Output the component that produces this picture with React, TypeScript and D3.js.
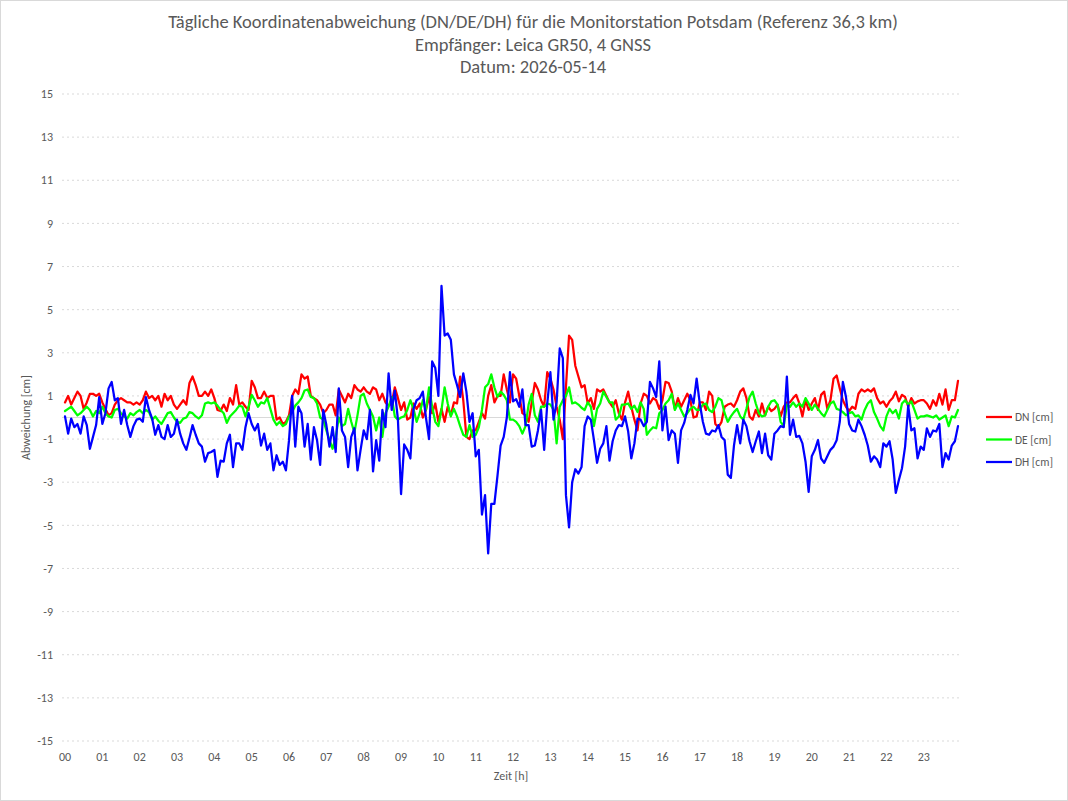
import React from 'react';
import * as d3 from 'd3';

// 5-minute samples, one row per hour (00..23)
const dn = [
  0.7, 1.0, 0.6, 0.9, 1.2, 1.0, 0.4, 0.7, 1.1, 1.1, 1.0, 1.1,
  0.7, 0.4, 0.1, 0.2, 0.6, 0.8, 0.9, 0.8, 0.7, 0.7, 0.6, 0.7,
  0.6, 0.8, 1.2, 0.9, 1.0, 0.8, 1.0, 0.5, 1.1, 0.8, 1.0, 0.6,
  0.4, 0.6, 0.8, 0.6, 1.6, 1.9, 1.5, 1.0, 1.0, 1.2, 1.0, 1.3,
  0.9, 0.35, 0.3, 0.6, 0.3, 0.9, 0.6, 1.5, 0.6, 0.7, 0.5, 0.35,
  1.7, 1.4, 0.9, 0.9, 1.2, 0.9, 1.0, 1.0, -0.1, 0.0, -0.3, -0.2,
  0.1, 1.0, 1.3, 1.1, 2.0, 1.8, 1.9, 1.0, 0.9, 0.8, 0.6, 0.2,
  0.35, 0.6, 0.6, 0.1, 1.3, 1.0, 0.7, 1.1, 0.9, 1.5, 1.3, 1.2,
  1.4, 1.2, 1.1, 1.4, 1.3, 0.8, 1.1, 0.7, 0.55, 0.65, 1.4, 0.9,
  0.35, 0.7, -0.1, 0.0, 0.65, 0.4, 0.65, 0.0, 0.35, 0.95, 0.2, 0.65,
  -0.2, 0.4, -0.2, 0.5, 0.1, 0.7, 0.65, 1.9, 0.8, -0.9, -1.0, -0.6,
  -0.6, -0.2, 0.2, -0.05, 1.0, 1.5, 0.7, 1.0, 1.0, 2.0, 1.3, 0.7,
  2.0, 1.8, 1.0, 0.2, 0.1, -0.2, 0.7, 1.6, 1.3, 0.8, 0.5, 2.1,
  1.8, 1.3, 0.5, -0.1, -1.0, 1.4, 3.8, 3.6, 2.4, 1.9, 1.4, 1.5,
  0.65, 0.9, 0.4, 1.3, 1.2, 1.3, 1.0, 0.7, 0.5, 0.8, 0.2, -0.1,
  0.7, 1.2, 0.5, -0.1, -0.6, 0.65, 1.1, 1.0, 0.65, 0.9, 0.8, 0.4,
  0.8, 1.65, 1.6, 1.2, 0.4, 0.9, 0.5, 0.8, 1.1, 0.8, 0.0, 0.05,
  0.7, 0.7, 0.35, 1.2, 1.0, -0.3, -0.45, -0.2, 0.5, 0.6, 0.65, 0.5,
  0.8, 1.2, 1.35, 0.9, 0.05, -0.1, 0.35, 0.05, 0.65, 0.1, 0.5, 0.3,
  0.4, 0.6, 0.05, 0.5, 0.7, 0.7, 0.9, 1.05, 0.65, 0.05, 0.8, 0.35,
  0.65, 0.9, 0.35, 1.05, 1.2, 0.4, 0.8, 1.8, 1.95, 1.35, 0.8, 0.5,
  0.3, 0.5, 0.4, 1.1, 1.3, 1.2, 1.3, 1.2, 1.35, 0.9, 0.65, 0.75,
  0.5, 0.75, 0.9, 1.2, 0.75, 1.05, 0.95, 0.5, 0.9, 0.65, 0.75, 0.8,
  0.8, 0.65, 0.4, 0.8, 0.55, 1.1, 0.6, 1.3, 0.35, 0.8, 0.8, 1.7,
];

const de = [
  0.3, 0.4, 0.5, 0.3, 0.1, 0.2, 0.35, 0.5, 0.35, 0.05, 0.3, 0.2,
  0.5, 0.2, 0.05, 0.0, 0.35, 0.4, 0.2, 0.05, -0.05, 0.2, 0.1, 0.25,
  0.35, 0.2, 0.35, 0.25, -0.1, 0.05, -0.15, -0.3, -0.05, 0.2, 0.25, 0.0,
  -0.2, -0.25, -0.05, 0.0, 0.25, 0.2, 0.05, -0.05, 0.1, 0.65, 0.7, 0.65,
  0.7, 0.55, 0.35, 0.2, -0.25, 0.05, 0.2, 0.35, 0.55, 0.5, 0.05, 0.5,
  1.05, 0.8, 0.5, 0.7, 0.65, 0.9, 0.4, -0.1, -0.35, -0.2, -0.4, -0.3,
  0.05, 0.25, 0.55, 0.7, 0.9, 1.25, 1.3, 0.95, 0.9, 0.65, 0.0, -0.1,
  -0.6, -1.05, -1.45, -0.9, 0.0, -0.4, -0.3, 0.4, -0.2, -0.7, 0.1, 1.0,
  1.1, 0.65, 0.35, 0.05, -0.6, 0.0, -0.9, 0.2, 0.5, 0.95, 0.05, -0.1,
  0.0, 0.05, 0.35, 0.8, 0.4, -0.2, 0.2, 0.8, 0.35, 1.4, 0.5, -0.2,
  -0.4, 0.35, 1.4, 0.65, 0.05, 0.4, 0.05, -0.4, -0.8, -0.9, -0.35, -0.9,
  -0.8, -0.45, 0.35, 1.4, 1.55, 2.0, 1.4, 0.95, 1.2, 1.05, 0.8, -0.1,
  -0.1, -0.2, -0.4, -0.75, -0.4, 0.6, 1.1, 0.1, -0.2, 0.5, 0.5, 0.65,
  0.6, 0.35, -1.2, 0.5, 0.8, 1.0, 1.4, 0.65, 0.7, 0.6, 0.45, 0.35,
  0.7, 0.5, -0.4, 0.4, 0.65, 1.2, 0.95, 0.7, 0.7, -0.1, 0.05, 0.6,
  0.6, 0.65, 0.4, 0.55, 0.25, 0.7, 0.4, -0.8, -0.6, -0.45, -0.5, 0.2,
  0.35, 0.65, 0.8, 1.1, 0.35, 0.65, 0.35, 0.05, 0.2, 0.4, 0.5, 0.35,
  0.35, 0.6, 0.65, 0.35, 0.25, 0.5, 0.9, 0.8, 0.2, -0.2, 0.05, 0.25,
  0.4, 0.05, -0.1, 0.4, 0.95, 1.2, 0.65, 0.2, 0.05, 0.1, 0.5, 0.75,
  0.8, 0.6, -0.2, -0.4, 0.6, 0.5, 0.7, 0.5, 0.65, 0.5, 0.9, 0.65,
  0.35, 0.6, 0.4, 0.2, 0.05, 0.35, 0.65, 0.75, 0.4, 0.35, 0.25, 0.1,
  0.2, 0.25, 0.05, 0.1, -0.1, 0.35, 0.65, 0.8, 0.25, -0.05, -0.4, -0.6,
  0.05, 0.4, 0.2, 0.35, -0.05, 0.65, 0.8, 0.6, 0.75, 0.35, -0.05, 0.05,
  0.05, 0.1, 0.05, 0.0, 0.1, -0.1, 0.0, 0.1, -0.4, 0.05, 0.0, 0.35,
];

const dh = [
  0.05, -0.75, -0.05, -0.45, -0.3, -0.75, 0.05, -0.35, -1.45, -0.9, -0.35, 0.95,
  -0.3, 0.2, 1.35, 1.65, 0.8, 0.9, -0.3, 0.35, -0.35, -0.9, -0.4, -0.1,
  -0.05, -0.2, 0.95, 0.35, -0.05, -0.8, -0.35, -0.9, -1.0, -0.35, -0.9, -0.75,
  -0.1, -0.75, -1.2, -1.5, -0.95, -0.35, -0.8, -1.2, -1.35, -2.05, -1.65, -1.6,
  -1.5, -2.75, -2.0, -2.05, -1.2, -0.8, -2.3, -1.2, -1.2, -1.5, -0.45, 0.2,
  -0.3, -0.6, -0.3, -1.3, -0.75, -1.5, -1.2, -2.45, -1.75, -2.2, -2.05, -2.45,
  -1.05, 1.0, -1.35, 0.5, 0.2, -1.35, -0.3, -1.95, -0.45, -1.05, -2.2, 0.35,
  -0.35, -1.35, -0.45, -1.6, 1.35, -0.6, -0.9, -2.3, -0.9, -0.5, -2.45, -1.5,
  -0.6, -1.0, 0.35, -2.5, -1.05, -2.0, 0.35, -0.45, 2.05, 0.35, 1.25, -0.1,
  -3.55, -1.25, -1.5, -1.9, 0.4, 0.8, 0.9, 1.2, 0.0, -1.0, 2.6, 2.3,
  1.0, 6.1, 3.8, 3.9, 3.6, 2.0, 1.5, 0.95, 2.05, 1.2, -0.2, 0.2,
  -1.8, -1.5, -4.5, -3.6, -6.3, -4.0, -4.0, -2.7, -1.3, -0.9, 0.0, 2.1,
  0.75, 0.85, 0.5, 1.3, -0.35, -0.35, -1.35, -1.3, -0.6, 0.35, -1.5, 0.65,
  2.1, -0.1, 0.7, 3.2, 2.75, -3.6, -5.1, -3.0, -2.4, -2.6, -2.3, -0.4,
  0.05, -0.1, -1.05, -2.1, -1.45, -1.2, -0.4, -2.0, -1.1, -0.6, -0.35, -0.4,
  0.05, -0.65, -1.9, -1.2, -0.05, -0.1, -0.4, -0.2, 1.65, 1.35, 0.95, 2.6,
  -0.6, 0.5, -1.05, -0.6, -0.75, -2.1, -0.6, -0.25, 0.35, 1.05, 0.65, 1.8,
  0.65, -0.2, -0.75, -0.8, -0.6, -0.65, -0.35, -0.9, -1.05, -2.65, -2.8, -1.3,
  -0.35, -1.2, -0.1, -0.4, -1.1, -1.6, -1.1, -0.65, -1.65, -0.75, -1.75, -1.95,
  -0.75, -0.6, -0.4, -0.45, 1.9, -0.8, -0.1, -0.9, -0.85, -1.2, -2.05, -3.45,
  -1.8, -1.5, -1.05, -1.9, -2.1, -1.8, -1.5, -1.35, -1.05, -0.2, 1.65, 0.95,
  -0.3, -0.6, -0.65, -0.1, -0.4, -0.8, -1.3, -2.05, -1.8, -1.95, -2.3, -1.2,
  -1.35, -1.1, -1.95, -3.5, -2.9, -2.35, -1.35, 0.55, -0.6, -0.5, -1.9, -1.35,
  -1.5, -0.5, -0.9, -0.6, -0.65, -0.3, -2.3, -1.65, -1.95, -1.3, -1.1, -0.4,
];

const hourLabels = ['00', '01', '02', '03', '04', '05', '06', '07', '08', '09', '10', '11',
  '12', '13', '14', '15', '16', '17', '18', '19', '20', '21', '22', '23'];
const yTicks = [15, 13, 11, 9, 7, 5, 3, 1, -1, -3, -5, -7, -9, -11, -13, -15];
const seriesNames = ['DN [cm]', 'DE [cm]', 'DH [cm]'];
const seriesColors = ['#ff0000', '#00ff00', '#0000ff'];
const titleLines = [
  'Tägliche Koordinatenabweichung (DN/DE/DH) für die Monitorstation Potsdam (Referenz 36,3 km)',
  'Empfänger: Leica GR50, 4 GNSS',
  'Datum: 2026-05-14',
];

const STEP = 5; // minutes between samples
const W = 1068;
const H = 801;
const FONT = 'Carlito, Calibri, Lato, sans-serif';
const TEXT = '#595959';

export default function App() {
  const x = d3.scaleLinear().domain([0, (dn.length - 1) * STEP]).range([65, 958]);
  const y = d3.scaleLinear().domain([-15, 15]).range([741, 94]);

  const line = d3
    .line<number>()
    .x((_, i) => x(i * STEP))
    .y((d) => y(d));

  const series = [dn, de, dh];

  return (
    <svg width={W} height={H} style={{ position: 'absolute', left: 0, top: 0, background: '#fff' }} fontFamily={FONT}>
      <rect x={0.5} y={0.5} width={W - 1} height={H - 1} fill="#fff" stroke="#d9d9d9" />

      {titleLines.map((t, i) => (
        <text key={t} x={533} y={28 + i * 22.5} textAnchor="middle" fontSize={18.5} fill={TEXT}>
          {t}
        </text>
      ))}

      {/* gridlines */}
      {yTicks.map((v) => (
        <line key={v} x1={62} x2={960} y1={y(v)} y2={y(v)} stroke="#d9d9d9" strokeDasharray="2 3" />
      ))}
      <line x1={62} x2={960} y1={y(0)} y2={y(0)} stroke="#d9d9d9" />

      {yTicks.map((v) => (
        <text key={v} x={53} y={y(v)} dy="0.35em" textAnchor="end" fontSize={12} fill={TEXT}>
          {v}
        </text>
      ))}
      {hourLabels.map((h, i) => (
        <text key={h} x={x(i * 60)} y={761} textAnchor="middle" fontSize={12} fill={TEXT}>
          {h}
        </text>
      ))}

      <text transform={`translate(30,${y(0)}) rotate(-90)`} textAnchor="middle" fontSize={12} fill={TEXT}>
        Abweichung [cm]
      </text>
      <text x={511} y={780} textAnchor="middle" fontSize={12} fill={TEXT}>
        Zeit [h]
      </text>

      {series.map((s, i) => (
        <path
          key={seriesNames[i]}
          d={line(s) ?? ''}
          fill="none"
          stroke={seriesColors[i]}
          strokeWidth={2.25}
          strokeLinejoin="round"
          strokeLinecap="round"
        />
      ))}

      {seriesNames.map((n, i) => (
        <g key={n} transform={`translate(986,${417 + i * 22.5})`}>
          <line x1={0} x2={26} y1={0} y2={0} stroke={seriesColors[i]} strokeWidth={2.25} />
          <text x={29} y={0} dy="0.35em" fontSize={11.5} fill={TEXT}>
            {n}
          </text>
        </g>
      ))}
    </svg>
  );
}
